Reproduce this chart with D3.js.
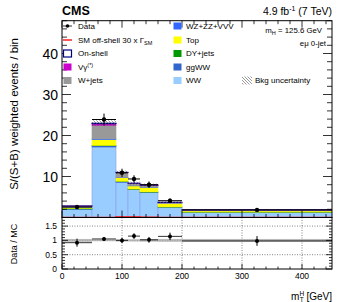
<!DOCTYPE html>
<html>
<head>
<meta charset="utf-8">
<script src="https://cdn.jsdelivr.net/npm/d3@7"></script>
<style>
  body { margin: 0; background: #fff; }
  text { font-family: "Liberation Sans", Arial, sans-serif; fill: #000; }
</style>
</head>
<body>
<svg id="chart"></svg>
<script>
// bin edges of m_T^H [GeV]
const binEdges = [0, 50, 90, 110, 130, 160, 200, 450];

// stacked backgrounds + signal, bottom to top
const wwVals     = [2.0, 17.2, 8.6, 6.8, 6.1, 2.5, 1.25];
const ggwwVals   = [0.1, 0.3, 0.15, 0.1, 0.1, 0.05, 0.05];
const dyVals     = [0.15, 0.1, 0.1, 0.05, 0.05, 0.03, 0.03];
const topVals    = [0.25, 1.4, 0.85, 0.75, 1.1, 0.8, 0.3];
const wzVals     = [0.05, 0.2, 0.1, 0.1, 0.1, 0.05, 0.05];
const wjetsVals  = [0.2, 3.3, 1.1, 0.5, 0.4, 0.25, 0.15];
const vgVals     = [0.05, 0.4, 0.1, 0.05, 0.05, 0.02, 0.03];
const onShellVals = [0.02, 0.1, 0.02, 0.02, 0.02, 0.02, 0.02];

const offShellVals = [0.02, 0.02, 0.15, 0.15, 0.05, 0.02, 0.02];
const bkgUnc   = [0.15, 0.7, 0.4, 0.35, 0.35, 0.2, 0.1];

const dataVals = [2.55, 23.9, 10.9, 9.4, 8.0, 4.1, 1.85];
const dataErr  = [0.35, 1.45, 1.0, 0.9, 0.8, 0.55, 0.3];

const ratioVals = [0.92, 1.05, 1.0, 1.15, 1.02, 1.14, 0.98];
const ratioErr  = [0.14, 0.07, 0.09, 0.1, 0.1, 0.13, 0.17];
const ratioBand = [0.05, 0.03, 0.04, 0.04, 0.045, 0.05, 0.05];

const mainYTicks = [10, 20, 30, 40];
const ratioYTicks = [0, 0.5, 1, 1.5];
const xTicks = [0, 100, 200, 300, 400];

const layers = [
    { key: "ww",    vals: wwVals,    color: "#99ccff", stroke: "#8c9ee8" },
    { key: "ggww",  vals: ggwwVals,  color: "#3366cc", stroke: "#3366cc" },
    { key: "dy",    vals: dyVals,    color: "#009900", stroke: "#009900" },
    { key: "top",   vals: topVals,   color: "#ffff00", stroke: "#ffff00" },
    { key: "wz",    vals: wzVals,    color: "#3366ff", stroke: "#3366ff" },
    { key: "wjets", vals: wjetsVals, color: "#999999", stroke: "#999999" },
    { key: "vg",    vals: vgVals,    color: "#cc00cc", stroke: "#cc00cc" },
    { key: "on",    vals: onShellVals, color: "none",  stroke: "#000080" }
];

const W = 349, H = 302;
const L = 62, R = 332, T = 20.7, MB = 217.5, RB = 269;

const svg = d3.select("#chart").attr("width", W).attr("height", H);

const x = d3.scaleLinear().domain([0, 450]).range([L, R]);
const y = d3.scaleLinear().domain([0, 48]).range([MB, T]);
const yr = d3.scaleLinear().domain([0, 1.8]).range([RB, MB]);

// hatch pattern for bkg uncertainty
const defs = svg.append("defs");
defs.append("pattern")
    .attr("id", "hatch")
    .attr("patternUnits", "userSpaceOnUse")
    .attr("width", 3).attr("height", 3)
    .append("path")
    .attr("d", "M-1,-1 L4,4 M-1,2 L1,4 M2,-1 L4,1")
    .attr("stroke", "#555").attr("stroke-width", 0.6);

defs.append("clipPath").attr("id", "clipMain")
    .append("rect").attr("x", L).attr("y", T).attr("width", R - L).attr("height", MB - T);

// rows per bin, stacked
const rows = binEdges.slice(0, -1).map((lo, i) => {
    const r = { lo: lo, hi: binEdges[i + 1] };
    layers.forEach(l => r[l.key] = l.vals[i]);
    return r;
});
const stacked = d3.stack().keys(layers.map(l => l.key))(rows);

const plot = svg.append("g").attr("clip-path", "url(#clipMain)");

stacked.forEach((series, li) => {
    const l = layers[li];
    plot.append("g").selectAll("rect")
        .data(series)
        .enter()
        .append("rect")
        .attr("x", d => x(d.data.lo))
        .attr("width", d => x(d.data.hi) - x(d.data.lo))
        .attr("y", d => y(d[1]))
        .attr("height", d => y(d[0]) - y(d[1]))
        .attr("fill", l.color)
        .attr("stroke", l.stroke)
        .attr("stroke-width", l.key === "on" ? 1 : 0.6);
});

// bkg uncertainty hatch on top of stack
const totals = rows.map((r, i) => d3.sum(layers, l => l.vals[i]));
plot.append("g").selectAll("rect")
    .data(rows)
    .enter()
    .append("rect")
    .attr("x", d => x(d.lo))
    .attr("width", d => x(d.hi) - x(d.lo))
    .attr("y", (d, i) => y(totals[i] + bkgUnc[i]))
    .attr("height", (d, i) => y(totals[i] - bkgUnc[i]) - y(totals[i] + bkgUnc[i]))
    .attr("fill", "url(#hatch)");

// SM off-shell (unstacked, red step line)
const offLine = d3.line()
    .curve(d3.curveStepAfter)
    .x(d => x(d[0]))
    .y(d => y(d[1]));
plot.append("path")
    .datum(binEdges.map((e, i) => [e, offShellVals[Math.min(i, offShellVals.length - 1)]]))
    .attr("fill", "none")
    .attr("stroke", "#ff0000")
    .attr("stroke-width", 1.5)
    .attr("d", offLine);

// data points with error bars
const dataG = svg.append("g");
rows.forEach((r, i) => {
    const cx = x((r.lo + r.hi) / 2);
    dataG.append("line")
        .attr("x1", x(r.lo)).attr("x2", x(r.hi))
        .attr("y1", y(dataVals[i])).attr("y2", y(dataVals[i]))
        .attr("stroke", "#000").attr("stroke-width", 1);
    dataG.append("line")
        .attr("x1", cx).attr("x2", cx)
        .attr("y1", y(dataVals[i] - dataErr[i])).attr("y2", y(dataVals[i] + dataErr[i]))
        .attr("stroke", "#000").attr("stroke-width", 1);
    dataG.append("circle")
        .attr("cx", cx).attr("cy", y(dataVals[i])).attr("r", 2.2)
        .attr("fill", "#000");
});

// frames
svg.append("rect").attr("x", L).attr("y", T).attr("width", R - L).attr("height", MB - T)
    .attr("fill", "none").attr("stroke", "#000").attr("stroke-width", 1);

// ---------- ratio panel ----------
const rp = svg.append("g");

// dotted grid
rp.selectAll(".hgrid")
    .data([0.5, 1, 1.5])
    .enter()
    .append("line")
    .attr("x1", L).attr("x2", R)
    .attr("y1", d => yr(d)).attr("y2", d => yr(d))
    .attr("stroke", "#666").attr("stroke-width", 0.8)
    .attr("stroke-dasharray", "1,1.5");
rp.selectAll(".vgrid")
    .data([100, 200, 300, 400])
    .enter()
    .append("line")
    .attr("x1", d => x(d)).attr("x2", d => x(d))
    .attr("y1", MB).attr("y2", RB)
    .attr("stroke", "#666").attr("stroke-width", 0.8)
    .attr("stroke-dasharray", "1,1.5");

// uncertainty band around 1
rp.selectAll(".band")
    .data(rows)
    .enter()
    .append("rect")
    .attr("x", d => x(d.lo))
    .attr("width", d => x(d.hi) - x(d.lo))
    .attr("y", (d, i) => yr(1 + ratioBand[i]))
    .attr("height", (d, i) => yr(1 - ratioBand[i]) - yr(1 + ratioBand[i]))
    .attr("fill", "#aaaaaa").attr("opacity", 0.8);

rows.forEach((r, i) => {
    const cx = x((r.lo + r.hi) / 2);
    rp.append("line")
        .attr("x1", x(r.lo)).attr("x2", x(r.hi))
        .attr("y1", yr(ratioVals[i])).attr("y2", yr(ratioVals[i]))
        .attr("stroke", "#000").attr("stroke-width", 0.8);
    rp.append("line")
        .attr("x1", cx).attr("x2", cx)
        .attr("y1", yr(ratioVals[i] - ratioErr[i])).attr("y2", yr(ratioVals[i] + ratioErr[i]))
        .attr("stroke", "#000").attr("stroke-width", 1);
    rp.append("circle")
        .attr("cx", cx).attr("cy", yr(ratioVals[i])).attr("r", 2)
        .attr("fill", "#000");
});

svg.append("rect").attr("x", L).attr("y", MB).attr("width", R - L).attr("height", RB - MB)
    .attr("fill", "none").attr("stroke", "#000").attr("stroke-width", 1);

// ---------- ticks on all four sides ----------
function ticksX(yPos, dir, major, minor) {
    const g = svg.append("g");
    d3.range(0, 451, 20).forEach(v => {
        const len = v % 100 === 0 ? major : minor;
        g.append("line").attr("x1", x(v)).attr("x2", x(v))
            .attr("y1", yPos).attr("y2", yPos + dir * len)
            .attr("stroke", "#000").attr("stroke-width", 0.8);
    });
}
ticksX(MB, -1, 7, 3.5);
ticksX(T, 1, 7, 3.5);
ticksX(RB, -1, 5, 2.5);

function ticksY(scale, xPos, dir, maxV, step, majorStep, major, minor) {
    const g = svg.append("g");
    d3.range(0, maxV + 1e-9, step).forEach(v => {
        const isMajor = Math.abs(v / majorStep - Math.round(v / majorStep)) < 1e-6;
        g.append("line").attr("x1", xPos).attr("x2", xPos + dir * (isMajor ? major : minor))
            .attr("y1", scale(v)).attr("y2", scale(v))
            .attr("stroke", "#000").attr("stroke-width", 0.8);
    });
}
ticksY(y, L, 1, 48, 2, 10, 9, 5);
ticksY(y, R, -1, 48, 2, 10, 9, 5);
ticksY(yr, L, 1, 1.8, 0.1, 0.5, 6, 3);
ticksY(yr, R, -1, 1.8, 0.1, 0.5, 6, 3);

// tick labels
svg.append("g").selectAll("text")
    .data(mainYTicks)
    .enter()
    .append("text")
    .attr("x", L - 4).attr("y", d => y(d) + 5)
    .attr("text-anchor", "end")
    .style("font-size", "14px")
    .text(d => d);

svg.append("g").selectAll("text")
    .data(ratioYTicks)
    .enter()
    .append("text")
    .attr("x", L - 5).attr("y", d => yr(d) + 3)
    .attr("text-anchor", "end")
    .style("font-size", "8.5px")
    .text(d => d);

svg.append("g").selectAll("text")
    .data(xTicks)
    .enter()
    .append("text")
    .attr("x", d => x(d)).attr("y", 279)
    .attr("text-anchor", "middle")
    .style("font-size", "8.5px")
    .text(d => d);

// axis titles
svg.append("text")
    .attr("transform", "translate(18,38) rotate(-90)")
    .attr("text-anchor", "end")
    .style("font-size", "11.5px")
    .text("S/(S+B) weighted events / bin");

svg.append("text")
    .attr("transform", "translate(17,244) rotate(-90)")
    .attr("text-anchor", "middle")
    .style("font-size", "9px")
    .text("Data / MC");

const xt = svg.append("text")
    .attr("x", R).attr("y", 300)
    .attr("text-anchor", "end")
    .style("font-size", "10px");
xt.append("tspan").text("m");
xt.append("tspan").attr("dy", -4).style("font-size", "6.5px").text("H");
xt.append("tspan").attr("dx", -4.5).attr("dy", 6).style("font-size", "6.5px").text("T");
xt.append("tspan").attr("dy", -2).text(" [GeV]");

// header
svg.append("text")
    .attr("x", L).attr("y", 15)
    .style("font-size", "12.5px").style("font-weight", "bold")
    .text("CMS");

const lumi = svg.append("text")
    .attr("x", R).attr("y", 15)
    .attr("text-anchor", "end")
    .style("font-size", "10.5px");
lumi.append("tspan").text("4.9 fb");
lumi.append("tspan").attr("dy", -4).style("font-size", "7px").text("-1");
lumi.append("tspan").attr("dy", 4).text(" (7 TeV)");

const mh = svg.append("text")
    .attr("x", 322).attr("y", 33)
    .attr("text-anchor", "end")
    .style("font-size", "7.8px");
mh.append("tspan").text("m");
mh.append("tspan").attr("dy", 2).style("font-size", "5.5px").text("H");
mh.append("tspan").attr("dy", -2).text(" = 125.6 GeV");

svg.append("text")
    .attr("x", 326).attr("y", 46)
    .attr("text-anchor", "end")
    .style("font-size", "7.8px")
    .text("eμ 0-jet");

// ---------- legend ----------
const legendRows = [26, 40, 53.5, 67, 80.5];
const legLeft = [
    { label: "Data", kind: "data" },
    { label: "SM off-shell 30 x Γ", sub: "SM", kind: "line", color: "#ff0000" },
    { label: "On-shell", kind: "box", color: "#ffffff", stroke: "#000080" },
    { label: "Vγ", sup: "(*)", kind: "box", color: "#cc00cc" },
    { label: "W+jets", kind: "box", color: "#999999" }
];
const legRight = [
    { label: "WZ+ZZ+VVV", kind: "box", color: "#3366ff" },
    { label: "Top", kind: "box", color: "#ffff00" },
    { label: "DY+jets", kind: "box", color: "#009900" },
    { label: "ggWW", kind: "box", color: "#3366cc" },
    { label: "WW", kind: "box", color: "#99ccff" }
];

function drawLegend(items, mx, tx) {
    items.forEach((it, i) => {
        const cy = legendRows[i];
        if (it.kind === "data") {
            svg.append("line").attr("x1", mx).attr("x2", mx + 9).attr("y1", cy).attr("y2", cy)
                .attr("stroke", "#000").attr("stroke-width", 0.8);
            svg.append("circle").attr("cx", mx + 4.5).attr("cy", cy).attr("r", 1.8).attr("fill", "#000");
        } else if (it.kind === "line") {
            svg.append("line").attr("x1", mx).attr("x2", mx + 9).attr("y1", cy).attr("y2", cy)
                .attr("stroke", it.color).attr("stroke-width", 1.3);
        } else {
            svg.append("rect").attr("x", mx + 0.5).attr("y", cy - 3.5).attr("width", 8).attr("height", 7)
                .attr("fill", it.color)
                .attr("stroke", it.stroke || it.color)
                .attr("stroke-width", it.stroke ? 1.2 : 0);
        }
        const t = svg.append("text").attr("x", tx).attr("y", cy + 2.8).style("font-size", "8px");
        t.append("tspan").text(it.label);
        if (it.sub) t.append("tspan").attr("dy", 2).style("font-size", "5.5px").text(it.sub);
        if (it.sup) t.append("tspan").attr("dy", -3).style("font-size", "5.5px").text(it.sup);
    });
}
drawLegend(legLeft, 63, 78);
drawLegend(legRight, 173, 186);

// bkg uncertainty legend entry
svg.append("rect").attr("x", 242).attr("y", legendRows[4] - 4).attr("width", 10).attr("height", 8)
    .attr("fill", "url(#hatch)");
svg.append("text").attr("x", 255).attr("y", legendRows[4] + 2.8)
    .style("font-size", "8px").text("Bkg uncertainty");
</script>
</body>
</html>
